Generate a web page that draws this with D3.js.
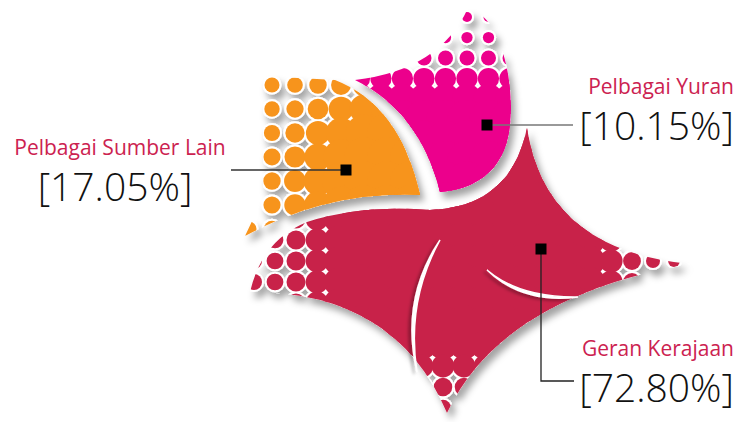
<!DOCTYPE html>
<html>
<head>
<meta charset="utf-8">
<script src="https://cdn.jsdelivr.net/npm/d3@7"></script>
<style>
  body { margin: 0; background: #fff; }
  svg { display: block; }
</style>
</head>
<body>
<div id="chart"></div>
<script>
// chart data
var categories = ["Geran Kerajaan", "Pelbagai Yuran", "Pelbagai Sumber Lain"];
var values = [72.80, 10.15, 17.05];
var colors = ["#c8234a", "#ec008c", "#f7941e"];

var width = 741,
  height = 422;

var color = d3.scaleOrdinal(categories, colors);
var pct = function(v) { return "[" + d3.format(".2f")(v) + "%]"; };

// petal outlines (drawing geometry, not data)
function redOutline() {
  var p = d3.path();
  p.moveTo(527, 128);
  p.quadraticCurveTo(545, 250, 690, 264);
  p.quadraticCurveTo(501, 297, 447, 413);
  p.quadraticCurveTo(395, 291, 250, 292);
  p.quadraticCurveTo(262, 240, 307, 222);
  p.quadraticCurveTo(360, 205, 430, 210);
  p.bezierCurveTo(480, 208, 515, 185, 527, 128);
  p.closePath();
  return p.toString();
}
function pinkOutline() {
  var p = d3.path();
  p.moveTo(440, 192);
  p.quadraticCurveTo(420, 112, 355, 80);
  p.quadraticCurveTo(440, 70, 468, 8);
  p.bezierCurveTo(500, 15, 515, 80, 510, 125);
  p.bezierCurveTo(505, 175, 470, 190, 440, 192);
  p.closePath();
  return p.toString();
}
function orangeOutline() {
  var p = d3.path();
  p.moveTo(263, 76);
  p.lineTo(335, 80);
  p.quadraticCurveTo(400, 105, 420, 195);
  p.quadraticCurveTo(330, 190, 245, 236);
  p.lineTo(263, 198);
  p.closePath();
  return p.toString();
}

// halftone falloff: small dots at t=0, solid at t=1
function ramp(t, r0, r1) {
  t = Math.max(0, Math.min(1.2, t));
  return r0 + (r1 - r0) * t * t;
}

var layout = {
  "Geran Kerajaan": {
    outline: redOutline, box: [245, 120, 700, 420], grid: [275, 240, 21, 21],
    radius: function(x, y) {
      var left = ramp((x - 255) / 92, 8, 15.5),
        bottom = ramp((420 - y) / 80, 8, 15.5),
        right = ramp((695 - x) / 105, 5.5, 15);
      return Math.min(left, bottom, right);
    },
    marker: [541, 249], leader: [[541, 249], [541, 381], [574, 381]], lineColor: "#222",
    label: { x: 734, y: 356, x2: 734, y2: 402, anchor: "end" }
  },
  "Pelbagai Yuran": {
    outline: pinkOutline, box: [350, 0, 520, 200], grid: [467, 17, 21.5, 20.5],
    radius: function(x, y) { return ramp((y - 17) / 82, 5, 15); },
    marker: [487, 125], leader: [[487, 125], [573, 125]], lineColor: "#777",
    label: { x: 734, y: 94, x2: 734, y2: 140, anchor: "end" }
  },
  "Pelbagai Sumber Lain": {
    outline: orangeOutline, box: [240, 70, 425, 240], grid: [272, 85, 23, 24],
    radius: function(x, y) {
      var d = Math.hypot(x - 405, y - 185);
      return ramp((166 - d) / 88, 7.5, 16);
    },
    marker: [346, 170], leader: [[231, 170], [346, 170]], lineColor: "#333",
    label: { x: 120, y: 155, x2: 115, y2: 201, anchor: "middle" }
  }
};

var svg = d3.select("#chart")
  .append("svg")
  .attr("width", width)
  .attr("height", height);

var defs = svg.append("defs");
defs.append("filter")
  .attr("id", "shadow")
  .attr("x", "-20%").attr("y", "-20%")
  .attr("width", "140%").attr("height", "140%")
  .append("feDropShadow")
  .attr("dx", 4).attr("dy", 6)
  .attr("stdDeviation", 3.5)
  .attr("flood-color", "#000")
  .attr("flood-opacity", 0.36);
defs.append("filter")
  .attr("id", "inner")
  .attr("x", "-50%").attr("y", "-50%")
  .attr("width", "200%").attr("height", "200%")
  .append("feDropShadow")
  .attr("dx", -3).attr("dy", 2)
  .attr("stdDeviation", 1.5)
  .attr("flood-color", "#000")
  .attr("flood-opacity", 0.3);

// build halftone dots for one petal
function dots(L) {
  var g = L.grid, b = L.box, pts = [];
  var i0 = Math.floor((b[0] - g[0]) / g[2]), i1 = Math.ceil((b[2] - g[0]) / g[2]);
  var j0 = Math.floor((b[1] - g[1]) / g[3]), j1 = Math.ceil((b[3] - g[1]) / g[3]);
  d3.range(j0, j1 + 1).forEach(function(j) {
    d3.range(i0, i1 + 1).forEach(function(i) {
      var x = g[0] + i * g[2], y = g[1] + j * g[3];
      var r = Math.min(22, L.radius(x, y));
      if (r > 1.5) pts.push({ x: x, y: y, r: r });
    });
  });
  return pts;
}

// draw order: red star underneath, then orange and pink
var order = ["Geran Kerajaan", "Pelbagai Sumber Lain", "Pelbagai Yuran"];

order.forEach(function(cat, k) {
  var L = layout[cat];
  defs.append("clipPath")
    .attr("id", "clip" + k)
    .append("path")
    .attr("d", L.outline());

  var pts = dots(L);
  var petal = svg.append("g")
    .attr("filter", "url(#shadow)")
    .append("g")
    .attr("clip-path", "url(#clip" + k + ")");

  petal.selectAll("circle.gap")
    .data(pts)
    .enter()
    .append("circle")
    .attr("class", "gap")
    .attr("cx", function(d) { return d.x; })
    .attr("cy", function(d) { return d.y; })
    .attr("r", function(d) { return d.r + 2; })
    .attr("fill", "#fff");

  petal.selectAll("circle.dot")
    .data(pts)
    .enter()
    .append("circle")
    .attr("class", "dot")
    .attr("cx", function(d) { return d.x; })
    .attr("cy", function(d) { return d.y; })
    .attr("r", function(d) { return d.r; })
    .attr("fill", color(cat));
});

// white sweeps inside the red star
var sweeps = [
  [[440, 240], [400, 300], [417, 372], [406, 302]],
  [[487, 270], [520, 298], [578, 297], [522, 304]]
];
svg.append("g")
  .attr("filter", "url(#inner)")
  .selectAll("path")
  .data(sweeps)
  .enter()
  .append("path")
  .attr("d", function(s) {
    var p = d3.path();
    p.moveTo(s[0][0], s[0][1]);
    p.quadraticCurveTo(s[1][0], s[1][1], s[2][0], s[2][1]);
    p.quadraticCurveTo(s[3][0], s[3][1], s[0][0], s[0][1]);
    return p.toString();
  })
  .attr("fill", "#fff")
  .attr("stroke", "#fff")
  .attr("stroke-width", 1.5);

// leader lines, markers and labels
categories.forEach(function(cat, i) {
  var L = layout[cat];
  svg.append("path")
    .attr("d", d3.line()(L.leader))
    .attr("fill", "none")
    .attr("stroke", L.lineColor)
    .attr("stroke-width", 1.3);

  svg.append("rect")
    .attr("x", L.marker[0] - 5.5)
    .attr("y", L.marker[1] - 5.5)
    .attr("width", 11)
    .attr("height", 11)
    .attr("fill", "#000");

  svg.append("text")
    .attr("x", L.label.x)
    .attr("y", L.label.y)
    .attr("text-anchor", L.label.anchor)
    .style("font-family", "'Open Sans', sans-serif")
    .style("font-size", "21px")
    .style("fill", "#cc2250")
    .text(cat);

  svg.append("text")
    .attr("x", L.label.x2)
    .attr("y", L.label.y2)
    .attr("text-anchor", L.label.anchor)
    .style("font-family", "'Open Sans', sans-serif")
    .style("font-weight", 300)
    .style("font-size", "39px")
    .style("fill", "#111")
    .text(pct(values[i]));
});
</script>
</body>
</html>
